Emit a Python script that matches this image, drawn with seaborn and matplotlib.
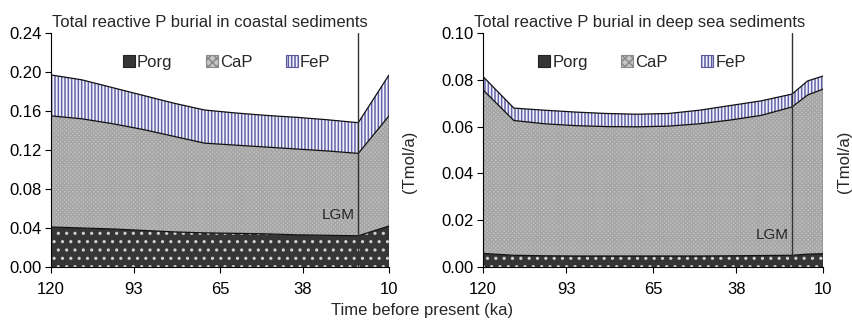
import numpy as np
import pandas as pd
import matplotlib
matplotlib.use("Agg")
import matplotlib.pyplot as plt
import seaborn as sns
from matplotlib.patches import Patch

# ---------------- data ----------------
coast_time = [120, 110, 100, 90, 80, 70, 60, 50, 40, 30, 20, 10]
coast_porg = [0.041, 0.040, 0.039, 0.0375, 0.036, 0.035, 0.0345, 0.034, 0.033, 0.0325, 0.032, 0.042]
coast_cap = [0.114, 0.112, 0.108, 0.1035, 0.098, 0.092, 0.0905, 0.089, 0.088, 0.0865, 0.0845, 0.113]
coast_fep = [0.042, 0.040, 0.037, 0.035, 0.034, 0.034, 0.033, 0.0325, 0.0325, 0.032, 0.0315, 0.042]

deep_time = [120, 110, 100, 90, 80, 70, 60, 50, 40, 30, 20, 15, 10]
deep_porg = [0.0058, 0.0050, 0.0048, 0.0047, 0.0047, 0.0047, 0.0047, 0.0047, 0.0048, 0.0049, 0.0050, 0.0055, 0.0057]
deep_cap = [0.0699, 0.0576, 0.0564, 0.0557, 0.0553, 0.0552, 0.0555, 0.0565, 0.0580, 0.0599, 0.0634, 0.0680, 0.0703]
deep_fep = [0.0057, 0.0053, 0.0058, 0.0058, 0.0056, 0.0054, 0.0054, 0.0058, 0.0062, 0.0062, 0.0055, 0.0060, 0.0056]

series_names = ["Porg", "CaP", "FeP"]
x_ticks = [120, 93, 65, 38, 10]
lgm_time = 20
titles = ["Total reactive P burial in coastal sediments",
          "Total reactive P burial in deep sea sediments"]
y_ticks_coast = [0.00, 0.04, 0.08, 0.12, 0.16, 0.20, 0.24]
y_ticks_deep = [0.00, 0.02, 0.04, 0.06, 0.08, 0.10]
unit_label = "(Tmol/a)"
x_label = "Time before present (ka)"

# ---------------- style ----------------
sns.set_theme(style="white")
plt.rcParams["font.family"] = ["Liberation Sans", "DejaVu Sans"]
plt.rcParams["hatch.linewidth"] = 1.1
FS = 12

styles = {
    "Porg": dict(facecolor="#363636", hatchcolor="#d0d0d0", hatch=".."),
    "CaP": dict(facecolor="#c6c6c6", hatchcolor="#a6a6a6", hatch="xxxxxxxx"),
    "FeP": dict(facecolor="#f2f2fa", hatchcolor="#6464aa", hatch="|||||"),
}
legend_edges = {"Porg": "#222222", "CaP": "#8a8a8a", "FeP": "#5a5aa0"}
legend_hatches = {"Porg": None, "CaP": "xxxx", "FeP": "|||||"}

fig = plt.figure(figsize=(8.52, 3.2), dpi=100)
ax1 = fig.add_axes([51 / 852, 1 - 267 / 320, 338 / 852, 234 / 320])
ax2 = fig.add_axes([483 / 852, 1 - 267 / 320, 340 / 852, 234 / 320])


def draw(ax, t, porg, cap, fep, yticks, title, title_x, lgm_y, leg_x):
    df = pd.DataFrame({"t": t, "Porg": porg, "CaP": cap, "FeP": fep})
    df["b1"] = df["Porg"]
    df["b2"] = df["b1"] + df["CaP"]
    df["b3"] = df["b2"] + df["FeP"]
    lows = [np.zeros(len(df)), df["b1"], df["b2"]]
    highs = [df["b1"], df["b2"], df["b3"]]
    for name, lo, hi in zip(series_names, lows, highs):
        st = styles[name]
        ax.fill_between(df["t"], lo, hi, facecolor=st["facecolor"],
                        edgecolor=st["hatchcolor"], hatch=st["hatch"],
                        linewidth=0, zorder=1)
    for col in ["b1", "b2", "b3"]:
        sns.lineplot(data=df, x="t", y=col, ax=ax, color="#111111", lw=0.9,
                     zorder=3, legend=False, sort=False, estimator=None)
    # right vertical edge of the stack
    ax.plot([df["t"].iloc[-1]] * 2, [0, df["b3"].iloc[-1]], color="#111111", lw=0.9, zorder=3)

    ax.set_xlim(120, 10)
    ax.set_ylim(yticks[0], yticks[-1])
    ax.set_xticks(x_ticks)
    ax.set_xticklabels([str(v) for v in x_ticks])
    ax.set_yticks(yticks)
    ax.set_yticklabels([f"{v:.2f}" for v in yticks])
    ax.set_xlabel("")
    ax.set_ylabel("")
    ax.tick_params(axis="both", which="both", direction="out", length=4, width=0.8,
                   labelsize=FS, colors="black", bottom=True, left=True)
    ax.tick_params(axis="x", pad=7)
    ax.tick_params(axis="y", pad=3)
    for s in ["top", "right"]:
        ax.spines[s].set_visible(False)
    for s in ["left", "bottom"]:
        ax.spines[s].set_color("black")
        ax.spines[s].set_linewidth(0.8)

    ax.axvline(lgm_time, color="#333333", lw=1.0, zorder=4)
    ax.text(lgm_time + 1.2, lgm_y, "LGM", ha="right", va="center", fontsize=11, zorder=5)

    ax.set_title(title, fontsize=FS, pad=4, x=title_x)
    ax.text(1.062, 0.45, unit_label, rotation=90, transform=ax.transAxes,
            ha="center", va="center", fontsize=FS)

    handles = [Patch(facecolor=styles[n]["facecolor"], edgecolor=legend_edges[n],
                     hatch=legend_hatches[n], linewidth=0.8) for n in series_names]
    ax.legend(handles, series_names, ncol=3, loc="center", bbox_to_anchor=(leg_x, 0.876),
              frameon=False, fontsize=FS, handlelength=0.7, handleheight=0.7,
              handletextpad=0.15, columnspacing=2.0)


draw(ax1, coast_time, coast_porg, coast_cap, coast_fep, y_ticks_coast, titles[0], 0.47, 0.053, 0.52)
draw(ax2, deep_time, deep_porg, deep_cap, deep_fep, y_ticks_deep, titles[1], 0.462, 0.0136, 0.468)

fig.text(422 / 852, 1 - 310 / 320, x_label, ha="center", va="center", fontsize=FS)

fig.savefig("out.png", dpi=100)
